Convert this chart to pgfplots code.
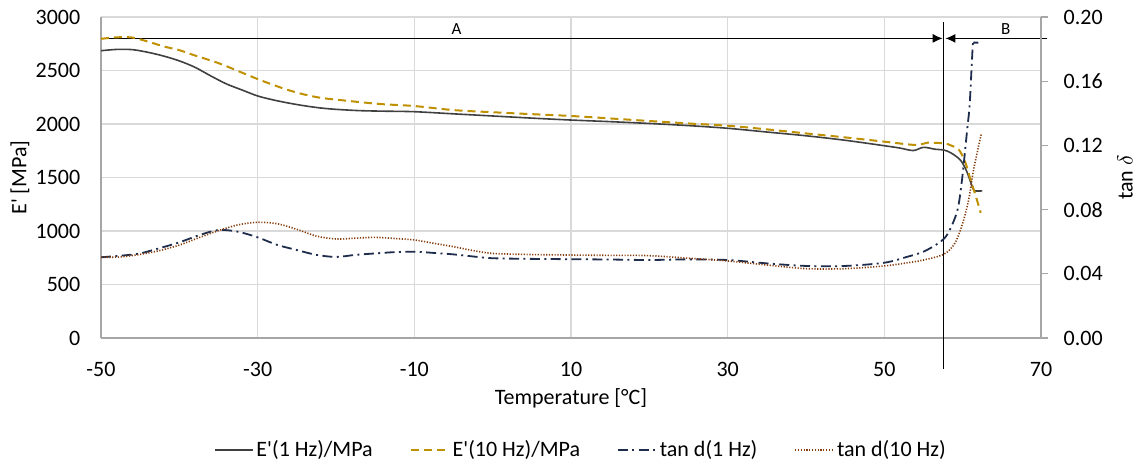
\documentclass[border=0pt]{standalone}
\usepackage{pgfplots}
\pgfplotsset{compat=1.18}
\usepackage{fontspec}
\setmainfont{Carlito}[Ligatures=TeXOff]
\usetikzlibrary{arrows.meta}
\definecolor{cEa}{HTML}{404040}
\definecolor{cEb}{HTML}{BF9000}
\definecolor{cTa}{HTML}{1F2D4D}
\definecolor{cTb}{HTML}{843C0C}
\definecolor{gridc}{HTML}{D9D9D9}
\definecolor{axc}{HTML}{A6A6A6}
\begin{document}
\fontsize{11}{13.2}\selectfont
\begin{tikzpicture}
\pgfplotsset{
  base/.style={
    scale only axis, width=470pt, height=160.5pt,
    xmin=-50, xmax=70,
    /pgf/number format/assume math mode=true,
    /pgf/number format/1000 sep={},
    tick label style={font=\fontsize{11}{13.2}\selectfont, text=black},
    label style={font=\fontsize{11}{13.2}\selectfont},
    axis line style={axc, line width=0.6pt},
  },
  Ea/.style={cEa, line width=0.8pt, smooth},
  Eb/.style={cEb, line width=1pt, dash pattern=on 4pt off 2.5pt, smooth},
  Ta/.style={cTa, line width=0.9pt, dash pattern=on 5pt off 2.2pt on 1pt off 2.2pt, smooth},
  Tb/.style={cTb, line width=0.8pt, dash pattern=on 0.6pt off 0.8pt, smooth},
}
\begin{axis}[base, name=ax,
  ymin=0, ymax=3000, ytick={0,500,...,3000},
  xtick={-50,-30,...,70},
  axis x line*=bottom, axis y line*=left,
  major tick length=0pt,
  grid=major, major grid style={gridc, line width=0.6pt},
  xticklabel shift=8pt, yticklabel shift=6.5pt,
  xlabel={Temperature [°C]},
  xlabel style={at={(axis description cs:0.5,-0.187)}, anchor=center},
  ylabel={E' [MPa]},
  ylabel style={at={(axis description cs:-0.0862,0.5)}, anchor=center},
  clip=false,
]
\draw[black, line width=0.6pt] (axis cs:57.6,2955) -- (axis cs:57.6,-285);
\draw[black, line width=0.6pt, -{Latex[length=5pt,width=4.5pt]}] (axis cs:-50,2800) -- (axis cs:57.45,2800);
\draw[black, line width=0.6pt, -{Latex[length=5pt,width=4.5pt]}] (axis cs:70.8,2800) -- (axis cs:57.8,2800);
\node[font=\fontsize{8.5}{10}\selectfont] at (axis cs:-4.6,2885) {A};
\node[font=\fontsize{8.5}{10}\selectfont] at (axis cs:65.5,2885) {B};
\addplot[Ea] coordinates {
(-50,2685) (-48,2697) (-46,2695) (-44,2670) (-42,2635) (-40,2590) (-38,2530)
(-36,2450) (-34,2375) (-32,2318) (-30,2262) (-28,2225) (-26,2195) (-24,2170)
(-22,2150) (-20,2137) (-17,2125) (-14,2120) (-10,2115) (-5,2095) (0,2075)
(5,2055) (10,2037) (15,2022) (20,2005) (25,1985) (30,1960) (35,1925) (40,1890)
(45,1848) (50,1797) (52,1775) (53.7,1752) (55,1782) (56.5,1764) (57.6,1757)
(58.5,1730) (59.7,1664) (60.5,1560) (61.3,1400) (61.6,1375) (62.5,1375)
};
\addplot[Eb] coordinates {
(-50,2796) (-48,2810) (-46,2808) (-44,2770) (-42,2725) (-40,2690) (-38,2640)
(-35,2569) (-32,2480) (-30,2420) (-28,2365) (-26,2315) (-24,2275) (-22,2245)
(-20,2228) (-17,2205) (-14,2185) (-10,2168) (-5,2130) (0,2110) (5,2092)
(10,2075) (15,2052) (20,2028) (25,2005) (30,1984) (35,1950) (40,1912)
(45,1875) (50,1835) (54,1804) (55.5,1825) (57.6,1819) (58.5,1800) (59.5,1760)
(60.3,1650) (61,1480) (61.7,1320) (62.3,1170)
};
\end{axis}
\begin{axis}[base,
  ymin=0, ymax=0.2, ytick={0,0.04,0.08,0.12,0.16,0.2},
  yticklabel style={/pgf/number format/.cd, fixed, fixed zerofill, precision=2},
  axis x line=none, axis y line*=right,
  tick align=outside, major tick length=3.5pt,
  tick style={axc, line width=0.6pt},
  yticklabel shift=4pt,
  ylabel={tan $\delta$},
  ylabel style={at={(axis description cs:1.0894,0.5)}, anchor=center, rotate=0},
  legend columns=4,
  legend style={at={(0.511,-0.349)}, anchor=center, draw=none, fill=none,
    font=\fontsize{11}{13.2}\selectfont,
    /tikz/every even column/.append style={column sep=17pt},
    nodes={inner sep=1.5pt}},
  legend image code/.code={\draw[#1] (0pt,0pt) -- (19pt,0pt);},
]
\addlegendimage{cEa, line width=0.8pt}
\addlegendentry{E'(1 Hz)/MPa}
\addlegendimage{cEb, line width=1pt, dash pattern=on 4pt off 2.5pt}
\addlegendentry{E'(10 Hz)/MPa}
\addplot[Ta] coordinates {
(-50,0.0503) (-47,0.0515) (-45,0.0527) (-42.5,0.056) (-40,0.0596) (-37.5,0.064)
(-35,0.0673) (-32.5,0.0662) (-30,0.0627) (-27.5,0.058) (-25,0.0548) (-22.5,0.0518)
(-20,0.0505) (-17.5,0.0518) (-15,0.0527) (-12.5,0.0535) (-10,0.0538) (-7.5,0.053)
(-5,0.0521) (-2.5,0.0508) (0,0.0497) (5,0.0493) (10,0.0491) (15,0.0489)
(20,0.0486) (25,0.049) (30,0.0486) (35,0.0465) (40,0.0449) (45,0.0449)
(50,0.0469) (53,0.0507) (55,0.0538) (57,0.0594) (58.1,0.065) (59.3,0.079)
(59.9,0.098) (60.6,0.131) (60.9,0.146) (61.3,0.183) (61.5,0.184) (62,0.184)
};
\addlegendentry{tan d(1 Hz)}
\addplot[Tb] coordinates {
(-50,0.0503) (-47.5,0.0505) (-45,0.0521) (-42.5,0.0545) (-40,0.0579) (-37.5,0.0625)
(-35,0.0669) (-32.5,0.0705) (-30,0.0721) (-27.5,0.0712) (-25,0.0677) (-22.5,0.0635)
(-20,0.0617) (-17.5,0.0622) (-15,0.0627) (-12.5,0.0620) (-10,0.0611) (-7.5,0.0590)
(-5,0.0569) (-2.5,0.0545) (0,0.0527) (5,0.0520) (10,0.0517) (15,0.0515)
(20,0.0513) (25,0.0497) (30,0.0480) (35,0.0455) (40,0.0432) (45,0.0432)
(50,0.0449) (53,0.0469) (55,0.0486) (57.6,0.0522) (59,0.0590) (60,0.0715)
(60.8,0.0870) (61.4,0.1050) (62.4,0.1277)
};
\addlegendentry{tan d(10 Hz)}
\end{axis}
\pgfresetboundingbox
\path[use as bounding box] ([xshift=-50.5pt,yshift=-64pt]ax.south west) rectangle ([xshift=48pt,yshift=8.5pt]ax.north east);
\end{tikzpicture}
\end{document}
